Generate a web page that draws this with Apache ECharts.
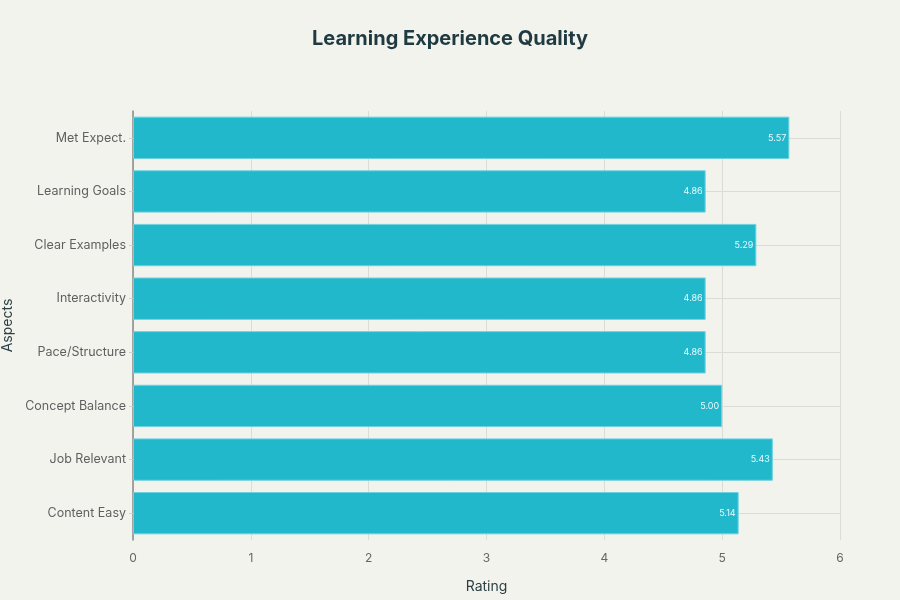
<!DOCTYPE html>
<html>
<head>
<meta charset="utf-8">
<script src="https://cdn.jsdelivr.net/npm/echarts@6/dist/echarts.min.js"></script>
<style>
  html, body { margin: 0; padding: 0; background: #f3f3ee; }
  #chart { width: 900px; height: 600px; }
</style>
</head>
<body>
<div id="chart"></div>
<script>
// bottom to top, as the y axis reads
const aspects = ["Content Easy", "Job Relevant", "Concept Balance", "Pace/Structure",
  "Interactivity", "Clear Examples", "Learning Goals", "Met Expect."];
const ratings = [5.14, 5.43, 5.00, 4.86, 4.86, 5.29, 4.86, 5.57];
const ratingTicks = [0, 1, 2, 3, 4, 5, 6];

const chart = echarts.init(document.getElementById("chart"));

const option = {
  backgroundColor: "#f3f3ee",
  textStyle: { fontFamily: "Inter, 'Noto Sans', sans-serif" },
  title: {
    text: "Learning Experience Quality",
    left: "center",
    top: 24,
    textStyle: { fontSize: 20, fontWeight: "bold", color: "#1f3a40" }
  },
  grid: { left: 133, right: 60, top: 111, bottom: 60, containLabel: false, outerBoundsMode: "none" },
  xAxis: {
    type: "value",
    min: ratingTicks[0],
    max: ratingTicks[ratingTicks.length - 1],
    interval: 1,
    name: "Rating",
    nameLocation: "middle",
    nameGap: 40,
    nameTextStyle: { fontSize: 14, color: "#2b3f44" },
    axisLine: { show: false },
    axisTick: { show: false },
    axisLabel: { color: "#666", fontSize: 12, margin: 12 },
    splitLine: { lineStyle: { color: "#dcdcd6", width: 1 } }
  },
  yAxis: {
    type: "category",
    data: aspects,
    name: "Aspects",
    nameLocation: "middle",
    nameGap: 118,
    nameTextStyle: { fontSize: 14, color: "#2b3f44" },
    axisLine: { show: true, lineStyle: { color: "#8a8a8a", width: 1.5 } },
    axisTick: { show: true, alignWithLabel: true, length: 4, lineStyle: { color: "#cfcfc9" } },
    axisLabel: { color: "#5f5f5f", fontSize: 12.5, margin: 7 },
    splitLine: { show: false }
  },
  series: [{
    type: "bar",
    data: ratings,
    barCategoryGap: "21%",
    itemStyle: { color: "#21b8cc", borderColor: "#6fd2df", borderWidth: 1 },
    label: {
      show: true,
      position: "insideRight",
      distance: 3,
      color: "#eafafc",
      fontSize: 9,
      formatter: p => p.value.toFixed(2)
    },
    markLine: {
      silent: true,
      symbol: "none",
      z: 1,
      label: { show: false },
      lineStyle: { color: "#dcdcd6", width: 1, type: "solid" },
      data: aspects.map(a => ({ yAxis: a }))
    }
  }]
};

chart.setOption(option);
</script>
</body>
</html>
